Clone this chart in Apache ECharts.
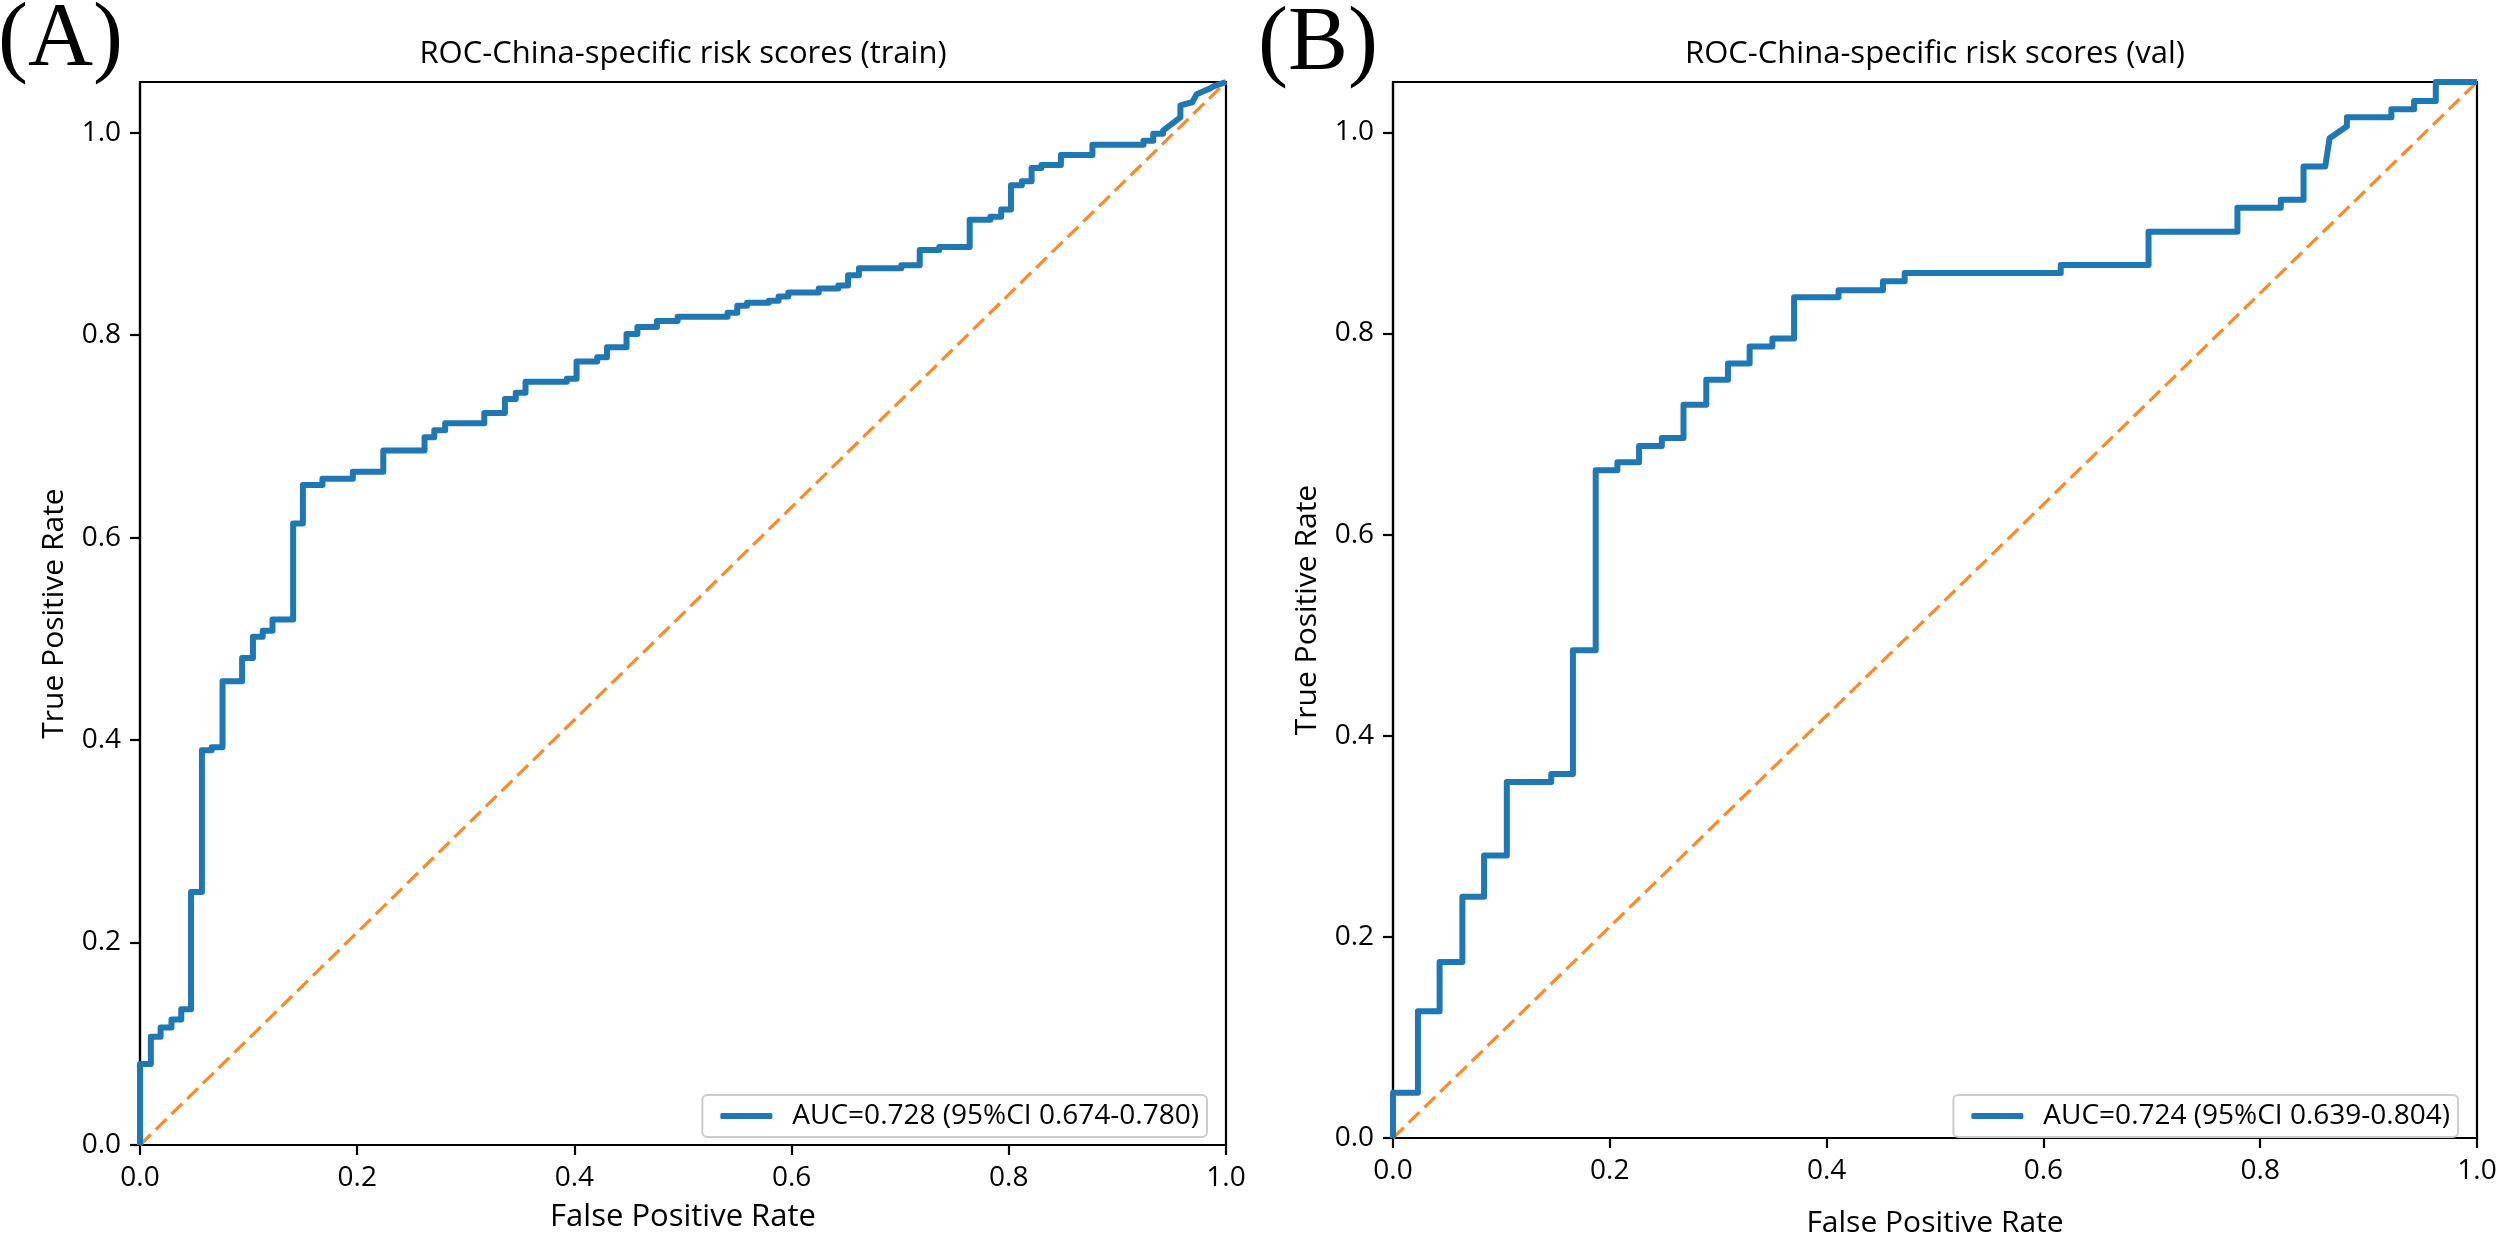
<!DOCTYPE html>
<html>
<head>
<meta charset="utf-8">
<script src="https://cdn.jsdelivr.net/npm/echarts@6/dist/echarts.min.js"></script>
<style>
html,body{margin:0;padding:0;background:#fff;}
#chart{width:2500px;height:1243px;}
</style>
</head>
<body>
<div id="chart"></div>
<script>
// ---- data ----
const panelLabels = ['(A)', '(B)'];
const titles = ['ROC-China-specific risk scores (train)', 'ROC-China-specific risk scores (val)'];
const legendNames = ['AUC=0.728 (95%CI 0.674-0.780)', 'AUC=0.724 (95%CI 0.639-0.804)'];
const xAxisName = 'False Positive Rate';
const yAxisName = 'True Positive Rate';
const tickValues = [0, 0.2, 0.4, 0.6, 0.8, 1.0];

const trainFPR = [0,0,0.010,0.010,0.019,0.019,0.029,0.029,0.038,0.038,0.047,0.047,0.057,0.057,0.066,0.066,0.076,0.076,0.094,0.094,
  0.104,0.104,0.113,0.113,0.122,0.122,0.141,0.141,0.150,0.150,0.168,0.168,0.196,0.196,0.224,0.224,0.262,0.262,0.271,0.271,
  0.281,0.281,0.317,0.317,0.336,0.336,0.346,0.346,0.355,0.355,0.393,0.393,0.402,0.402,0.421,0.421,0.430,0.430,0.448,0.448,
  0.458,0.458,0.476,0.476,0.495,0.495,0.541,0.541,0.550,0.550,0.559,0.559,0.579,0.579,0.588,0.588,0.597,0.597,0.625,0.625,
  0.643,0.643,0.652,0.652,0.662,0.662,0.701,0.701,0.718,0.718,0.736,0.736,0.764,0.764,0.783,0.783,0.793,0.793,0.802,0.802,
  0.812,0.812,0.821,0.821,0.830,0.830,0.848,0.848,0.877,0.877,0.924,0.924,0.933,0.933,0.942,0.942,0.958,0.958,0.969,0.973,
  0.984,0.989,1.0];
const trainTPR = [0,0.080,0.080,0.107,0.107,0.116,0.116,0.124,0.124,0.134,0.134,0.250,0.250,0.390,0.390,0.393,0.393,0.458,0.458,0.481,
  0.481,0.502,0.502,0.508,0.508,0.519,0.519,0.614,0.614,0.652,0.652,0.658,0.658,0.665,0.665,0.686,0.686,0.699,0.699,0.706,
  0.706,0.713,0.713,0.723,0.723,0.737,0.737,0.743,0.743,0.754,0.754,0.757,0.757,0.774,0.774,0.778,0.778,0.788,0.788,0.801,
  0.801,0.808,0.808,0.814,0.814,0.818,0.818,0.822,0.822,0.829,0.829,0.832,0.832,0.834,0.834,0.838,0.838,0.842,0.842,0.846,
  0.846,0.849,0.849,0.859,0.859,0.866,0.866,0.869,0.869,0.884,0.884,0.887,0.887,0.914,0.914,0.917,0.917,0.924,0.924,0.948,
  0.948,0.952,0.952,0.965,0.965,0.968,0.968,0.978,0.978,0.988,0.988,0.992,0.992,0.999,0.999,1.002,1.015,1.027,1.030,1.038,
  1.043,1.046,1.05];

const valFPR = [0,0,0.023,0.023,0.043,0.043,0.064,0.064,0.084,0.084,0.105,0.105,0.146,0.146,0.166,0.166,0.187,0.187,0.207,0.207,
  0.227,0.227,0.248,0.248,0.268,0.268,0.289,0.289,0.309,0.309,0.329,0.329,0.350,0.350,0.370,0.370,0.411,0.411,0.452,0.452,
  0.472,0.472,0.616,0.616,0.697,0.697,0.779,0.779,0.819,0.819,0.840,0.840,0.860,0.864,0.880,0.880,0.921,0.921,0.942,0.942,
  0.962,0.962,1.0];
const valTPR = [0,0.045,0.045,0.126,0.126,0.175,0.175,0.240,0.240,0.281,0.281,0.354,0.354,0.362,0.362,0.485,0.485,0.664,0.664,0.672,
  0.672,0.688,0.688,0.696,0.696,0.729,0.729,0.754,0.754,0.770,0.770,0.787,0.787,0.795,0.795,0.836,0.836,0.843,0.843,0.852,
  0.852,0.860,0.860,0.868,0.868,0.901,0.901,0.925,0.925,0.933,0.933,0.966,0.966,0.994,1.006,1.015,1.015,1.023,1.023,1.031,
  1.031,1.05,1.05];

const diagX = [0, 1];
const diagY = [0, 1.05];

// ---- build options ----
const FONT = '"Open Sans", "Noto Sans", sans-serif';
const zip = (a, b) => a.map((v, i) => [v, b[i]]);

const grids = [
  {left: 140, top: 82, width: 1086, height: 1063},
  {left: 1393, top: 82, width: 1084, height: 1063}
];
const xNameGap = [57, 70];
const xNameSize = [31, 30];

function axisCommon() {
  return {
    axisLine: {show: true, onZero: false, lineStyle: {color: '#000', width: 2.2}},
    axisTick: {show: true, inside: false, length: 10, lineStyle: {color: '#000', width: 2.2}, customValues: tickValues},
    axisLabel: {show: true, color: '#000', fontFamily: FONT, fontSize: 28, margin: 19,
      customValues: tickValues, formatter: v => Number(v).toFixed(1)},
    splitLine: {show: false}
  };
}

const option = {
  animation: false,
  backgroundColor: '#fff',
  grid: grids.map(g => Object.assign({show: true, borderColor: '#000', borderWidth: 2.2, backgroundColor: 'transparent'}, g)),
  xAxis: [0, 1].map(i => Object.assign(axisCommon(), {
    type: 'value', gridIndex: i, min: 0, max: 1, position: 'bottom',
    name: xAxisName, nameLocation: 'middle', nameGap: xNameGap[i],
    nameTextStyle: {color: '#000', fontFamily: FONT, fontSize: xNameSize[i], lineHeight: 30}
  })),
  yAxis: [0, 1].map(i => Object.assign(axisCommon(), {
    type: 'value', gridIndex: i, min: 0, max: 1.05, position: 'left',
    name: yAxisName, nameLocation: 'middle', nameGap: 71,
    nameTextStyle: {color: '#000', fontFamily: FONT, fontSize: 30, lineHeight: 30}
  })),
  legend: [0, 1].map(i => ({
    data: [legendNames[i]],
    right: i === 0 ? 1293 : 42,
    bottom: 106,
    orient: 'horizontal',
    icon: 'roundRect',
    itemWidth: 52, itemHeight: 6,
    padding: [7, 8, 7, 18],
    borderColor: '#cccccc', borderWidth: 2, borderRadius: 5,
    backgroundColor: 'rgba(255,255,255,0.8)',
    selectedMode: false,
    textStyle: {color: '#000', fontFamily: FONT, fontSize: 28, lineHeight: 28, padding: [0, 0, 0, 15]}
  })),
  graphic: [
    {type: 'text', x: -2, y: 41, style: {text: panelLabels[0], font: '90px "Liberation Serif"', fill: '#000', align: 'left', verticalAlign: 'middle'}},
    {type: 'text', x: 1258, y: 45, style: {text: panelLabels[1], font: '90px "Liberation Serif"', fill: '#000', align: 'left', verticalAlign: 'middle'}},
    {type: 'text', x: 683, y: 54, style: {text: titles[0], font: '31px "Open Sans"', fill: '#000', align: 'center', verticalAlign: 'middle'}},
    {type: 'text', x: 1935, y: 54, style: {text: titles[1], font: '31px "Open Sans"', fill: '#000', align: 'center', verticalAlign: 'middle'}}
  ],
  series: [
    {type: 'line', name: 'diag-train', xAxisIndex: 0, yAxisIndex: 0, data: zip(diagX, diagY),
      symbol: 'none', silent: true, z: 2,
      lineStyle: {color: '#fb8a2a', width: 3.2, type: [15, 7]}},
    {type: 'line', name: legendNames[0], xAxisIndex: 0, yAxisIndex: 0, data: zip(trainFPR, trainTPR),
      symbol: 'none', showSymbol: false, z: 3, itemStyle: {color: '#1f77b4'},
      lineStyle: {color: '#1f77b4', width: 6, join: 'round'}},
    {type: 'line', name: 'diag-val', xAxisIndex: 1, yAxisIndex: 1, data: zip(diagX, diagY),
      symbol: 'none', silent: true, z: 2,
      lineStyle: {color: '#fb8a2a', width: 3.2, type: [15, 7]}},
    {type: 'line', name: legendNames[1], xAxisIndex: 1, yAxisIndex: 1, data: zip(valFPR, valTPR),
      symbol: 'none', showSymbol: false, z: 3, itemStyle: {color: '#1f77b4'},
      lineStyle: {color: '#1f77b4', width: 6, join: 'round'}}
  ]
};

const chart = echarts.init(document.getElementById('chart'), null, {renderer: 'canvas'});
chart.setOption(option);
</script>
</body>
</html>
